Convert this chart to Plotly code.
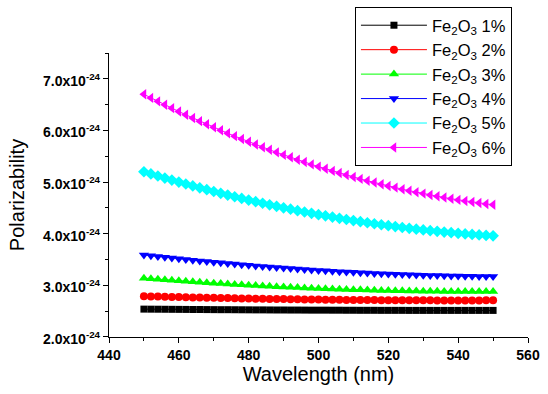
import plotly.graph_objects as go

wavelength = list(range(450, 551, 2))

fe1 = [2.540, 2.539, 2.538, 2.537, 2.536, 2.535, 2.534, 2.533, 2.532, 2.531,
       2.530, 2.529, 2.529, 2.528, 2.527, 2.526, 2.525, 2.525, 2.524, 2.523,
       2.523, 2.522, 2.522, 2.521, 2.520, 2.520, 2.520, 2.519, 2.519, 2.518,
       2.518, 2.517, 2.517, 2.517, 2.516, 2.516, 2.516, 2.516, 2.515, 2.515,
       2.515, 2.515, 2.515, 2.515, 2.515, 2.515, 2.515, 2.515, 2.515, 2.515, 2.515]
fe2 = [2.790, 2.786, 2.783, 2.780, 2.776, 2.773, 2.770, 2.767, 2.764, 2.761,
       2.758, 2.755, 2.753, 2.750, 2.747, 2.745, 2.743, 2.740, 2.738, 2.736,
       2.734, 2.732, 2.730, 2.728, 2.727, 2.725, 2.723, 2.722, 2.721, 2.719,
       2.718, 2.717, 2.716, 2.715, 2.714, 2.713, 2.712, 2.712, 2.711, 2.710,
       2.710, 2.710, 2.709, 2.709, 2.709, 2.709, 2.709, 2.709, 2.709, 2.710, 2.710]
fe3 = [3.140, 3.129, 3.119, 3.109, 3.099, 3.089, 3.079, 3.070, 3.061, 3.052,
       3.043, 3.035, 3.026, 3.019, 3.011, 3.003, 2.996, 2.989, 2.982, 2.975,
       2.969, 2.963, 2.957, 2.951, 2.945, 2.940, 2.935, 2.930, 2.925, 2.921,
       2.917, 2.913, 2.909, 2.906, 2.902, 2.899, 2.896, 2.894, 2.891, 2.889,
       2.887, 2.886, 2.884, 2.883, 2.882, 2.881, 2.880, 2.880, 2.880, 2.880, 2.880]
fe4 = [3.590, 3.575, 3.559, 3.545, 3.530, 3.516, 3.502, 3.488, 3.474, 3.461,
       3.448, 3.436, 3.423, 3.412, 3.400, 3.388, 3.377, 3.366, 3.356, 3.346,
       3.336, 3.326, 3.316, 3.307, 3.299, 3.290, 3.282, 3.274, 3.266, 3.259,
       3.252, 3.245, 3.238, 3.232, 3.226, 3.220, 3.215, 3.210, 3.205, 3.201,
       3.196, 3.193, 3.189, 3.186, 3.182, 3.180, 3.177, 3.175, 3.173, 3.171, 3.170]
fe5 = [5.200, 5.159, 5.118, 5.078, 5.039, 5.000, 4.963, 4.925, 4.889, 4.853,
       4.818, 4.783, 4.749, 4.716, 4.684, 4.652, 4.620, 4.590, 4.560, 4.531,
       4.502, 4.475, 4.447, 4.421, 4.395, 4.370, 4.346, 4.322, 4.299, 4.276,
       4.254, 4.233, 4.213, 4.193, 4.174, 4.156, 4.138, 4.121, 4.104, 4.089,
       4.074, 4.059, 4.046, 4.033, 4.020, 4.008, 3.997, 3.987, 3.977, 3.968, 3.960]
fe6 = [6.700, 6.631, 6.564, 6.497, 6.432, 6.367, 6.304, 6.242, 6.180, 6.120,
       6.061, 6.003, 5.946, 5.890, 5.835, 5.781, 5.728, 5.676, 5.626, 5.576,
       5.527, 5.480, 5.433, 5.388, 5.343, 5.300, 5.258, 5.217, 5.176, 5.137,
       5.099, 5.062, 5.026, 4.991, 4.958, 4.925, 4.893, 4.862, 4.833, 4.804,
       4.777, 4.750, 4.725, 4.701, 4.677, 4.655, 4.634, 4.614, 4.595, 4.577, 4.560]

series_names = ["Fe<sub>2</sub>O<sub>3</sub> 1%", "Fe<sub>2</sub>O<sub>3</sub> 2%",
                "Fe<sub>2</sub>O<sub>3</sub> 3%", "Fe<sub>2</sub>O<sub>3</sub> 4%",
                "Fe<sub>2</sub>O<sub>3</sub> 5%", "Fe<sub>2</sub>O<sub>3</sub> 6%"]
series_values = [fe1, fe2, fe3, fe4, fe5, fe6]
colors = ["#000000", "#FF0000", "#00FF00", "#0000FF", "#00FFFF", "#FF00FF"]
symbols = ["square", "circle", "triangle-up", "triangle-down", "diamond", "triangle-left"]
sizes = [7, 8, 9, 9, 9, 9]

x_tick_vals = [440, 460, 480, 500, 520, 540, 560]
x_tick_text = ["440", "460", "480", "500", "520", "540", "560"]
y_tick_vals = [2.0, 3.0, 4.0, 5.0, 6.0, 7.0]
y_tick_text = ["2.0x10<sup>-24</sup>", "3.0x10<sup>-24</sup>", "4.0x10<sup>-24</sup>",
               "5.0x10<sup>-24</sup>", "6.0x10<sup>-24</sup>", "7.0x10<sup>-24</sup>"]

FONT = "Liberation Sans, Arial, sans-serif"

fig = go.Figure()
for name, vals, c, s, sz in zip(series_names, series_values, colors, symbols, sizes):
    fig.add_trace(go.Scatter(
        x=wavelength, y=vals, name=name, mode="lines+markers",
        line=dict(color=c, width=1),
        marker=dict(symbol=s, color=c, size=sz, line=dict(width=0)),
    ))

fig.update_layout(
    width=548, height=394,
    margin=dict(l=109, r=20, t=5, b=57),
    paper_bgcolor="white", plot_bgcolor="white",
    font=dict(family=FONT, color="black"),
    showlegend=True,
    legend=dict(
        x=0.587, y=0.994, xanchor="left", yanchor="top",
        bgcolor="white", bordercolor="black", borderwidth=1,
        font=dict(size=16.5, family=FONT, color="black"),
        tracegroupgap=0, itemwidth=66,
    ),
    xaxis=dict(
        range=[440, 560], tickmode="array", tickvals=x_tick_vals, ticktext=x_tick_text,
        automargin=False,
        showgrid=False, zeroline=False, showline=True, linecolor="black", linewidth=1.3,
        ticks="outside", ticklen=5, tickwidth=1, tickcolor="black",
        tickfont=dict(family=FONT, size=14, color="black", weight="bold"),
        minor=dict(tickvals=[450, 470, 490, 510, 530, 550], ticks="outside", ticklen=3, tickcolor="black", showgrid=False),
        title=dict(text="Wavelength (nm)", font=dict(size=20, family=FONT, color="black"), standoff=0),
    ),
    yaxis=dict(
        range=[2.0, 7.5], domain=[0, 0.8554], tickmode="array", tickvals=y_tick_vals, ticktext=y_tick_text,
        automargin=False,
        showgrid=False, zeroline=False, showline=True, linecolor="black", linewidth=1.3,
        ticks="outside", ticklen=5, tickwidth=1, tickcolor="black",
        tickfont=dict(family=FONT, size=14, color="black", weight="bold"),
        ticklabelshift=2,
        minor=dict(tickvals=[2.5, 3.5, 4.5, 5.5, 6.5, 7.5], ticks="outside", ticklen=3, tickcolor="black", showgrid=False),
        title=dict(text="Polarizability", font=dict(size=20, family=FONT, color="black"), standoff=13),
    ),
)

fig.write_html("out.html")
